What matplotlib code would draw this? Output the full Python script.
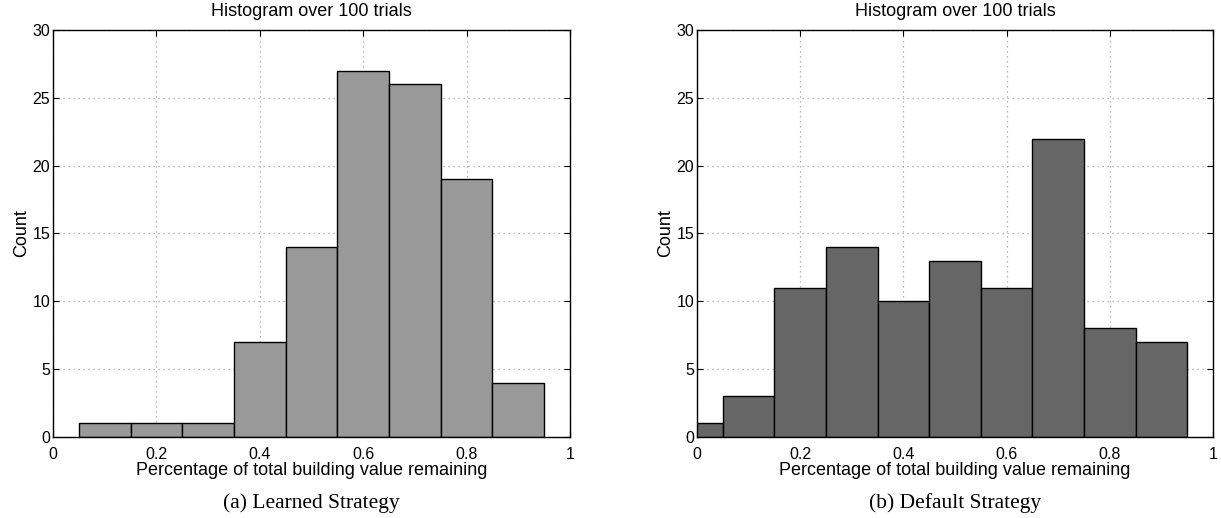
import numpy as np
import matplotlib.pyplot as plt

plt.rcParams['font.family'] = ['Liberation Sans', 'DejaVu Sans']

# bin centres and counts
learned_centers = [0.1, 0.2, 0.3, 0.4, 0.5, 0.6, 0.7, 0.8, 0.9]
learned_counts = [1, 1, 1, 7, 14, 27, 26, 19, 4]

default_centers = [0.0, 0.1, 0.2, 0.3, 0.4, 0.5, 0.6, 0.7, 0.8, 0.9]
default_counts = [1, 3, 11, 14, 10, 13, 11, 22, 8, 7]

bin_width = 0.1
x_ticks = [0, 0.2, 0.4, 0.6, 0.8, 1]
x_ticklabels = ['0', '0.2', '0.4', '0.6', '0.8', '1']
y_ticks = [0, 5, 10, 15, 20, 25, 30]

fig = plt.figure(figsize=(12.21, 5.18), dpi=100)
ax1 = fig.add_axes([0.0434, 0.1564, 0.4234, 0.7857])
ax2 = fig.add_axes([0.5708, 0.1564, 0.4226, 0.7857])

panels = [
    (ax1, learned_centers, learned_counts, '#999999', '(a) Learned Strategy'),
    (ax2, default_centers, default_counts, '#666666', '(b) Default Strategy'),
]

for ax, centers, counts, color, caption in panels:
    ax.set_axisbelow(True)
    ax.grid(True, linestyle=(0, (1, 3)), color='#a0a0a0', linewidth=0.9)
    ax.bar(centers, counts, width=bin_width, color=color,
           edgecolor='black', linewidth=1.0)
    ax.set_xlim(0, 1)
    ax.set_ylim(0, 30)
    ax.set_xticks(x_ticks)
    ax.set_xticklabels(x_ticklabels)
    ax.set_yticks(y_ticks)
    ax.tick_params(direction='in', top=True, right=True, length=4,
                   labelsize=11.5, pad=2)
    ax.tick_params(axis='x', pad=7)
    for s in ax.spines.values():
        s.set_linewidth(1.0)
    ax.set_title('Histogram over 100 trials', fontsize=13, pad=10)
    ax.set_xlabel('Percentage of total building value remaining',
                  fontsize=13, labelpad=0)
    ax.set_ylabel('Count', fontsize=13, labelpad=2)
    pos = ax.get_position()
    fig.text((pos.x0 + pos.x1) / 2, 0.029, caption, ha='center', va='center',
             fontsize=15.5, family=['Liberation Serif', 'DejaVu Serif'])

fig.savefig('out.png', dpi=100)
